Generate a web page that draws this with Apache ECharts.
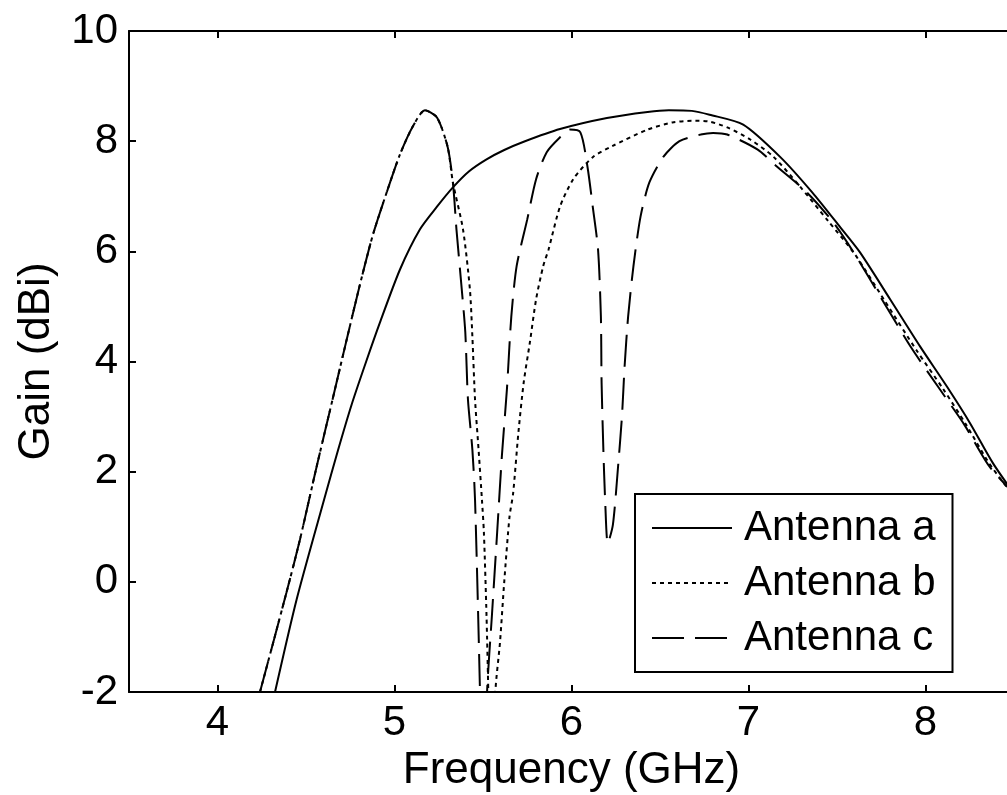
<!DOCTYPE html>
<html>
<head>
<meta charset="utf-8">
<script src="https://cdn.jsdelivr.net/npm/echarts@6/dist/echarts.min.js"></script>
<style>
  html, body { margin: 0; padding: 0; background: #fff; overflow: hidden; }
  #chart { width: 1014px; height: 795px; }
</style>
</head>
<body>
<div id="chart"></div>
<script>
// Gain versus frequency, [GHz, dBi]
const antennaA = [
  [4.325,-2],[4.447,-0.32],[4.602,1.49],[4.68,2.38],[4.758,3.22],[4.84,4.0],[4.918,4.71],
  [5.031,5.67],[5.144,6.40],[5.24,6.81],[5.33,7.16],[5.42,7.45],[5.52,7.67],[5.62,7.84],
  [5.73,7.99],[5.935,8.22],[6.2,8.42],[6.43,8.53],[6.55,8.56],[6.68,8.55],[6.78,8.48],
  [6.97,8.30],[7.18,7.71],[7.36,7.07],[7.52,6.43],[7.63,5.98],[7.80,5.13],[7.97,4.27],
  [8.12,3.55],[8.25,2.89],[8.38,2.16],[8.5,1.6]
];
const antennaB = [
  [4.24,-2],[4.39,-0.19],[4.466,0.77],[4.56,2.09],[4.65,3.31],[4.73,4.40],[4.805,5.4],
  [4.878,6.3],[4.958,7.09],[5.031,7.76],[5.104,8.27],[5.172,8.56],[5.24,8.43],[5.30,7.9],
  [5.33,7.25],[5.387,6.40],[5.426,5.31],[5.44,4.45],[5.455,3.31],[5.475,2.4],[5.494,1.49],
  [5.505,0.9],[5.52,-0.63],[5.53,-2],[5.55,-5],[5.57,-2],[5.596,-1.1],[5.62,0],[5.65,1.19],
  [5.67,1.6],[5.70,2.71],[5.73,3.62],[5.765,4.35],[5.80,5.13],[5.84,5.73],[5.87,6.03],
  [5.935,6.81],[6.01,7.31],[6.12,7.71],[6.23,7.91],[6.43,8.21],[6.57,8.34],[6.68,8.37],
  [6.77,8.36],[6.88,8.25],[7.01,8.03],[7.14,7.72],[7.29,7.18],[7.45,6.55],[7.6,5.95],
  [7.77,5.1],[7.95,4.2],[8.1,3.5],[8.23,2.85],[8.36,2.15],[8.5,1.55]
];
const antennaC = [
  [4.24,-2],[4.39,-0.19],[4.466,0.77],[4.56,2.09],[4.65,3.31],[4.73,4.40],[4.805,5.4],
  [4.878,6.3],[4.958,7.09],[5.031,7.76],[5.104,8.27],[5.172,8.56],[5.24,8.43],[5.30,7.9],
  [5.33,7.25],[5.35,6.40],[5.38,5.31],[5.40,4.53],[5.415,3.31],[5.44,2.4],[5.455,1.49],
  [5.483,-2],[5.50,-5],[5.523,-2],[5.55,-0.63],[5.58,0.9],[5.607,2.3],[5.635,3.49],
  [5.66,4.82],[5.69,5.73],[5.75,6.58],[5.80,7.31],[5.86,7.80],[5.935,8.07],[5.99,8.21],
  [6.05,8.16],[6.09,7.54],[6.12,6.81],[6.15,6.03],[6.166,4.82],[6.17,3.62],[6.18,2.40],
  [6.19,1.49],[6.205,0.7],[6.234,1.04],[6.263,2.09],[6.285,3.0],[6.30,3.91],[6.32,4.82],
  [6.35,5.73],[6.39,6.63],[6.44,7.25],[6.52,7.72],[6.61,8.0],[6.73,8.12],[6.80,8.15],
  [6.88,8.12],[7.05,7.85],[7.16,7.54],[7.33,7.07],[7.48,6.52],[7.6,5.95],[7.75,5.15],
  [7.92,4.25],[8.08,3.5],[8.22,2.85],[8.36,2.1],[8.5,1.6]
];

const seriesNames = ['Antenna a', 'Antenna b', 'Antenna c'];
const freqTicks = [4, 5, 6, 7, 8];
const xLabel = 'Frequency (GHz)';
const yLabel = 'Gain (dBi)';

const INK = '#000';
const FONT = "'Liberation Sans', Arial, sans-serif";
const FS = 42;
const NAME_FS = 44;

const chart = echarts.init(document.getElementById('chart'), null, { renderer: 'canvas' });

const tickStyle = { show: true, inside: true, length: 7, lineStyle: { color: INK, width: 2 } };
const lineAxis = { show: true, onZero: false, lineStyle: { color: INK, width: 2 } };

function curve(name, data, type) {
  return {
    name: name,
    type: 'line',
    data: data,
    xAxisIndex: 0,
    yAxisIndex: 0,
    symbol: 'none',
    smooth: 0.25,
    clip: true,
    lineStyle: { color: INK, width: 2, type: type, cap: 'butt' },
    itemStyle: { color: INK }
  };
}

chart.setOption({
  animation: false,
  backgroundColor: '#fff',
  grid: { left: 129, right: 0, top: 31, bottom: 103, containLabel: false, outerBoundsMode: 'none' },
  xAxis: [
    {
      type: 'value', min: 3.5, max: 8.5, position: 'bottom',
      name: xLabel, nameLocation: 'middle', nameGap: 55,
      nameTextStyle: { fontFamily: FONT, fontSize: NAME_FS, color: INK },
      axisLine: lineAxis,
      axisTick: Object.assign({}, tickStyle, { customValues: freqTicks }),
      axisLabel: { customValues: freqTicks, fontFamily: FONT, fontSize: FS, color: INK, margin: 10 },
      splitLine: { show: false }
    },
    {
      type: 'value', min: 3.5, max: 8.5, position: 'top',
      axisLine: lineAxis,
      axisTick: Object.assign({}, tickStyle, { customValues: freqTicks }),
      axisLabel: { show: false },
      splitLine: { show: false }
    }
  ],
  yAxis: [
    {
      type: 'value', min: -2, max: 10, interval: 2, position: 'left',
      name: yLabel, nameLocation: 'middle', nameGap: 70, nameRotate: 90,
      nameTextStyle: { fontFamily: FONT, fontSize: NAME_FS, color: INK },
      axisLine: lineAxis,
      axisTick: tickStyle,
      axisLabel: { fontFamily: FONT, fontSize: FS, color: INK, margin: 11 },
      splitLine: { show: false }
    },
    {
      type: 'value', min: -2, max: 10, interval: 2, position: 'right',
      axisLine: lineAxis,
      axisTick: tickStyle,
      axisLabel: { show: false },
      splitLine: { show: false }
    }
  ],
  legend: {
    data: seriesNames,
    orient: 'vertical',
    left: 635,
    top: 494,
    padding: [13, 17, 13, 16],
    itemWidth: 80,
    itemHeight: 14,
    itemGap: 13,
    backgroundColor: '#fff',
    borderColor: INK,
    borderWidth: 2,
    borderRadius: 0,
    itemStyle: { opacity: 0 },
    textStyle: { fontFamily: FONT, fontSize: FS, color: INK, padding: [0, 0, 0, 7] }
  },
  series: [
    curve(seriesNames[0], antennaA, 'solid'),
    curve(seriesNames[1], antennaB, [4, 4]),
    curve(seriesNames[2], antennaC, [32, 11])
  ]
});
</script>
</body>
</html>
